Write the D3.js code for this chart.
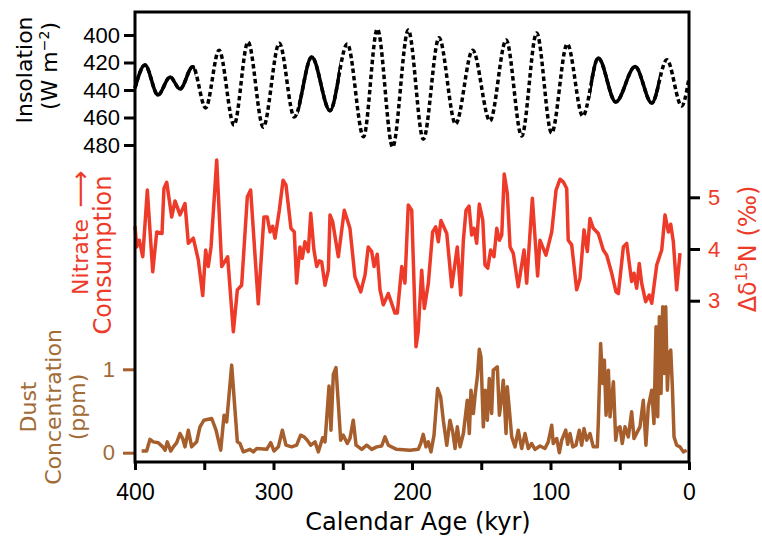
<!DOCTYPE html>
<html>
<head>
<meta charset="utf-8">
<script src="https://cdn.jsdelivr.net/npm/d3@7"></script>
<style>
  body { margin: 0; background: #fff; }
  svg { display: block; font-family: "DejaVu Sans", sans-serif; }
</style>
</head>
<body>
<svg id="chart" width="762" height="537"></svg>
<script>
// insolation extremes (kyr, W m-2)
const insolAge = [400, 392.8, 383.4, 374.7, 367.5, 358.3, 349, 339.3, 328.5, 318.4, 307.4, 295.8, 285, 272.4, 259.2, 246.7, 235, 225, 214, 202.7, 191.8, 180.5, 168.5, 156.2, 143.7, 132, 120.8, 110, 99.2, 87.9, 76.7, 65.5, 52.9, 38.9, 26.9, 16, 5.3, 0];
const insolVal = [438.5, 421.8, 443.6, 430.5, 439.3, 423, 453, 411, 465.5, 405, 467, 406, 459.6, 416, 455, 406.5, 474, 395.6, 481.5, 396.4, 475.8, 402, 464.7, 411, 462.5, 403.6, 473.5, 398.5, 471.3, 406.5, 459, 416.8, 448.7, 423, 449.5, 418, 451.6, 431.3];
// parts of the insolation curve drawn solid (kyr from, to); rest dashed
const insolSolid = [[400, 356.5], [281, 252], [70, 21]];

// nitrate Δδ15N (‰)
const nitrateAge = [400, 398.8, 396.9, 394.4, 391.1, 387.2, 384.3, 380.5, 379.1, 377.1, 373.5, 371.1, 367.5, 363.9, 361.5, 357.9, 354.3, 351.1, 349, 347.1, 345.1, 341, 337.4, 333.1, 329, 326.1, 323, 318.9, 316.5, 311, 306.9, 304.5, 302.5, 300.6, 298.9, 295.8, 293.1, 291, 287.4, 285, 283.3, 280.9, 279.2, 277.3, 274.9, 273.1, 270.8, 268.8, 266.9, 265.2, 262.8, 260.4, 259.2, 257.3, 253.2, 248.9, 244.8, 241.2, 237, 233.9, 231.6, 229.1, 227.4, 225.1, 223.1, 220.7, 217.1, 212.3, 210.6, 207.4, 205.1, 202.7, 200.2, 197.1, 195.5, 193, 191.1, 188.2, 185.1, 182.9, 181, 179.1, 174.9, 171.3, 167.3, 164.8, 162.9, 161, 158.8, 156.9, 155.2, 153.3, 151.4, 148.9, 147.3, 145.3, 143.2, 140.8, 138.8, 136.9, 135.2, 133.4, 131.2, 129.2, 126.9, 123.3, 119.1, 117.2, 113.1, 109.3, 107.6, 103.3, 99.1, 96, 93.1, 90.8, 88.3, 87.2, 84.7, 81.1, 78.7, 75.8, 73.4, 71.5, 69.1, 65.5, 61.9, 59.4, 55.8, 52.7, 51, 47.4, 45, 41.4, 39.7, 37.8, 35.9, 34.2, 31.3, 28.7, 26.9, 23.3, 19.7, 17.3, 14.9, 13.2, 11.3, 8.9, 6.5];
const nitrateVal = [4.44, 4.04, 4.17, 3.85, 5.14, 3.56, 4.33, 4.3, 5.17, 5.29, 4.62, 4.93, 4.66, 4.88, 4.11, 4.21, 3.79, 3.1, 3.98, 3.66, 4.04, 5.72, 3.66, 3.85, 2.4, 3.21, 3.3, 5.01, 5.14, 2.94, 4.62, 4.62, 4.33, 4.44, 4.21, 4.75, 5.33, 5.24, 4.4, 4.33, 3.34, 4.04, 3.82, 4.14, 3.95, 4.69, 3.98, 3.66, 3.77, 3.75, 3.3, 3.59, 4.66, 4.53, 3.85, 4.75, 4.4, 3.46, 3.17, 3.5, 4.04, 3.95, 3.66, 3.9, 3.21, 2.92, 3.14, 2.76, 2.76, 3.66, 3.34, 4.85, 4.75, 2.11, 2.4, 3.59, 2.85, 3.34, 4.33, 4.43, 4.14, 4.55, 4.3, 3.27, 4.04, 3.11, 4.17, 4.75, 4.83, 4.27, 4.4, 4.11, 4.87, 4.56, 3.69, 3.63, 3.98, 3.85, 4.4, 4.17, 4.27, 5.45, 5.08, 4.04, 3.92, 3.27, 3.98, 3.34, 4.98, 3.48, 4.17, 3.88, 4.33, 5.14, 5.35, 5.3, 5.17, 4.17, 4.08, 3.21, 3.43, 4.37, 3.95, 4.59, 4.4, 4.3, 3.98, 3.88, 3.53, 3.17, 3.14, 4.04, 4.11, 3.37, 3.53, 3.24, 3.72, 3.34, 2.98, 3.11, 2.95, 3.69, 3.98, 4.66, 4.33, 4.48, 4.14, 3.21, 3.92];

// dust concentration (ppm)
const dustAge = [395.2, 391.6, 389.2, 386.8, 383.2, 380, 378.3, 376.7, 374.2, 372.3, 369.9, 367.5, 365.6, 363.9, 361.5, 359.1, 355.5, 353.1, 350.2, 344.6, 341.5, 338.1, 335.7, 333.8, 330.2, 327.8, 326.1, 324.2, 321.8, 317, 314.6, 312.1, 304.9, 302, 299.6, 296.5, 293.6, 291, 286.9, 283.3, 280.4, 278, 275.6, 273.1, 270, 267.6, 264.5, 262.8, 259.9, 258.5, 256.8, 254.9, 253.2, 251.5, 249.6, 246.7, 244.8, 242.4, 240.4, 236.3, 232.7, 229.1, 225.5, 221.9, 219.5, 217.1, 211.1, 201.4, 195.5, 193.7, 191.9, 189.9, 188.2, 186.3, 184.1, 181.5, 179.3, 177.4, 174.9, 172.6, 170.6, 168.9, 167.3, 165.3, 162.9, 160.1, 158.6, 157.4, 155.7, 154.3, 152.8, 151.4, 150.2, 148.5, 147.1, 145.6, 144.2, 142.5, 141.3, 138.4, 136.9, 135.2, 134.1, 132.1, 131.2, 129.7, 128, 125.6, 123.3, 120.8, 118.4, 116, 113.6, 111.2, 107.6, 104, 101.6, 99.1, 98, 95.5, 93.6, 91.9, 89, 87.6, 85.9, 83.9, 81.6, 79.2, 77.5, 75.8, 73.9, 71.5, 69.1, 66.2, 65.5, 63.8, 62.3, 61.1, 59.9, 58.2, 57, 54.6, 52.9, 51.7, 49.8, 48.2, 46.2, 43.8, 41.4, 39.7, 37.3, 35.4, 33, 31.1, 29.4, 26.9, 25.3, 23.8, 22.6, 21.4, 20.2, 19, 17.8, 16.8, 15.6, 14.4, 13.2, 12, 10.8, 8.9, 6.5, 4.1, 1.7];
const dustVal = [0.02, 0.02, 0.16, 0.13, 0.12, 0.07, 0.03, 0.13, 0.02, 0.07, 0.12, 0.23, 0.17, 0.07, 0.27, 0.07, 0.13, 0.31, 0.39, 0.41, 0.27, 0.03, 0.45, 0.37, 1.05, 0.51, 0.13, 0.11, 0.01, 0.04, 0.01, 0.05, 0.04, 0.12, 0.02, 0.07, 0.27, 0.09, 0.07, 0.09, 0.21, 0.19, 0.15, 0.09, 0.13, 0.01, 0.18, 0.13, 0.8, 0.27, 0.94, 1.02, 0.59, 0.15, 0.21, 0.11, 0.17, 0.39, 0.09, 0.04, 0.09, 0.04, 0.07, 0.08, 0.19, 0.09, 0.04, 0.03, 0.04, 0.11, 0.22, 0.07, 0.13, 0.01, 0.21, 0.77, 0.67, 0.39, 0.09, 0.39, 0.25, 0.05, 0.31, 0.07, 0.23, 0.63, 0.23, 0.75, 0.47, 0.71, 0.91, 1.24, 1.15, 0.31, 0.75, 0.39, 0.89, 0.47, 0.99, 1.03, 0.45, 0.67, 0.87, 0.23, 0.79, 0.51, 0.19, 0.07, 0.27, 0.05, 0.23, 0.05, 0.11, 0.04, 0.08, 0.05, 0.13, 0.33, 0.11, 0.17, 0, 0.15, 0.27, 0.1, 0.23, 0.07, 0.09, 0.27, 0.09, 0.29, 0.15, 0.23, 0.07, 0.07, 0.35, 1.31, 0.83, 1.11, 0.45, 0.99, 0.43, 0.85, 0.15, 0.29, 0.31, 0.11, 0.31, 0.19, 0.49, 0.17, 0.25, 0.31, 0.63, 0.09, 0.55, 0.75, 0.35, 1.51, 0.43, 1.63, 0.71, 1.75, 0.95, 1.75, 0.75, 1.19, 1.23, 0.79, 0.19, 0.09, 0.07, 0.01, 0.03];

const ageTicks = [400, 350, 300, 250, 200, 150, 100, 50, 0];
const insolTicks = [400, 420, 440, 460, 480];
const nitrateTicks = [3, 4, 5];
const dustTicks = [0, 1];

const RED = '#ee3a29';
const BROWN = '#a65e2c';
const BROWN_TXT = '#a26b36';

const svg = d3.select('#chart');
const mLeft = 135, mRight = 689, mTop = 12, mBottom = 462;

// scales
const x = d3.scaleLinear().domain([400, 0]).range([mLeft, mRight]);
const yInsol = d3.scaleLinear().domain([400, 480]).range([35, 145]);
const yNit = d3.scaleLinear().domain([3, 5]).range([300.7, 197.3]);
const yDust = d3.scaleLinear().domain([0, 1]).range([452.7, 369.3]);

// insolation curve: dashed everywhere, solid over chosen stretches
const insol = insolAge.map((a, i) => ({ a, v: insolVal[i] }));
const insolLine = d3.line()
  .x(d => x(d.a))
  .y(d => yInsol(d.v))
  .curve(d3.curveMonotoneX);

const clip = svg.append('defs').append('clipPath').attr('id', 'solid-clip');
insolSolid.forEach(r => {
  clip.append('rect')
    .attr('x', x(r[0]) - 2)
    .attr('y', 0)
    .attr('width', x(r[1]) - x(r[0]) + 2)
    .attr('height', 200);
});

svg.append('path')
  .datum(insol)
  .attr('fill', 'none')
  .attr('stroke', '#000')
  .attr('stroke-width', 3.5)
  .attr('stroke-dasharray', '4.5,3')
  .attr('d', insolLine);

svg.append('path')
  .datum(insol)
  .attr('clip-path', 'url(#solid-clip)')
  .attr('fill', 'none')
  .attr('stroke', '#000')
  .attr('stroke-width', 3.5)
  .attr('d', insolLine);

// nitrate
const nit = nitrateAge.map((a, i) => ({ a, v: nitrateVal[i] }));
svg.append('path')
  .datum(nit)
  .attr('fill', 'none')
  .attr('stroke', RED)
  .attr('stroke-width', 3.5)
  .attr('stroke-linejoin', 'round')
  .attr('d', d3.line().x(d => x(d.a)).y(d => yNit(d.v)));

// dust
const dust = dustAge.map((a, i) => ({ a, v: dustVal[i] }));
svg.append('path')
  .datum(dust)
  .attr('fill', 'none')
  .attr('stroke', BROWN)
  .attr('stroke-width', 3.5)
  .attr('stroke-linejoin', 'round')
  .attr('d', d3.line().x(d => x(d.a)).y(d => yDust(d.v)));

// axes
const xAxis = svg.append('g')
  .attr('transform', `translate(0,${mBottom})`)
  .call(d3.axisBottom(x).tickValues(ageTicks).tickSize(8).tickPadding(14)
    .tickFormat(d => d % 100 === 0 ? d : ''));
xAxis.select('.domain').remove();
xAxis.selectAll('line').attr('stroke-width', 3);
xAxis.selectAll('text').attr('font-size', 23).attr('font-family', null);

const insolAxis = svg.append('g')
  .attr('transform', `translate(${mLeft},0)`)
  .call(d3.axisLeft(yInsol).tickValues(insolTicks).tickSize(11).tickPadding(4));
insolAxis.select('.domain').remove();
insolAxis.selectAll('line').attr('stroke-width', 3);
insolAxis.selectAll('text').attr('font-size', 22).attr('font-family', null);

const dustAxis = svg.append('g')
  .attr('transform', `translate(${mLeft},0)`)
  .call(d3.axisLeft(yDust).tickValues(dustTicks).tickSize(12).tickPadding(8)
    .tickFormat(d3.format('d')));
dustAxis.select('.domain').remove();
dustAxis.selectAll('line').attr('stroke', BROWN).attr('stroke-width', 3);
dustAxis.selectAll('text').attr('fill', BROWN_TXT).attr('font-size', 22).attr('font-family', null);

const nitAxis = svg.append('g')
  .attr('transform', `translate(${mRight},0)`)
  .call(d3.axisRight(yNit).tickValues(nitrateTicks).tickSize(11).tickPadding(8)
    .tickFormat(d3.format('d')));
nitAxis.select('.domain').remove();
nitAxis.selectAll('line').attr('stroke-width', 3);
nitAxis.selectAll('text').attr('fill', RED).attr('font-size', 22).attr('font-family', null);

// frame
svg.append('path')
  .attr('d', `M${mLeft},${mBottom}V${mTop}H${mRight}V${mBottom}Z`)
  .attr('fill', 'none')
  .attr('stroke', '#000')
  .attr('stroke-width', 3)
  .attr('stroke-linecap', 'square');

// titles
svg.append('text')
  .attr('x', 418).attr('y', 530)
  .attr('text-anchor', 'middle')
  .attr('font-size', 24)
  .text('Calendar Age (kyr)');

function vtitle(cx, cy, color) {
  return svg.append('text')
    .attr('transform', `translate(${cx},${cy}) rotate(-90)`)
    .attr('text-anchor', 'middle')
    .attr('font-size', 22)
    .attr('fill', color);
}

vtitle(32, 70, '#000').text('Insolation');
const wm = vtitle(57, 66, '#000');
wm.append('tspan').text('(W m');
wm.append('tspan').attr('font-size', 14).attr('dy', -8).text('−2');
wm.append('tspan').attr('dy', 8).text(')');

vtitle(88, 257, RED).text('Nitrate');
vtitle(89, 189, RED).attr('font-size', 26).text('⟶');
vtitle(111, 255, RED).attr('font-size', 24).text('Consumption');

vtitle(36, 407, BROWN_TXT).text('Dust');
vtitle(61, 407, BROWN_TXT).text('Concentration');
vtitle(85, 407, BROWN_TXT).text('(ppm)');

const dn = vtitle(756, 249, RED).attr('font-size', 24);
dn.append('tspan').text('Δδ');
dn.append('tspan').attr('font-size', 15).attr('dy', -9).text('15');
dn.append('tspan').attr('dy', 9).text('N (‰)');
</script>
</body>
</html>
